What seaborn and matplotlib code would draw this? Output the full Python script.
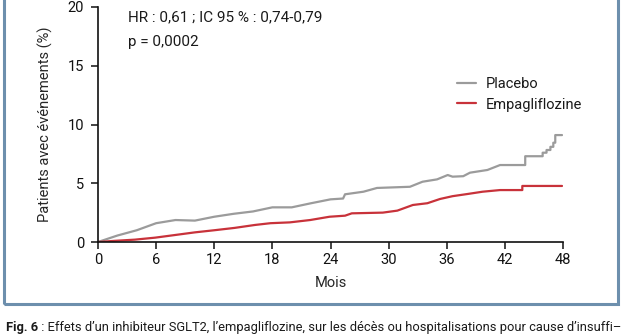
import matplotlib
matplotlib.use("Agg")
import matplotlib.pyplot as plt
import seaborn as sns
import pandas as pd
from matplotlib.patches import Rectangle

# ---- data ----
placebo_months = [0, 2, 4, 6, 8, 10, 12, 14, 16, 18, 20, 22, 24, 25.3, 25.5,
                  27.4, 28.8, 32.2, 33.5, 35, 36.1, 36.6, 37.7, 38.4, 40.2, 41.5,
                  44.1, 44.1, 45.9, 45.9, 46.3, 46.3, 46.7, 46.7, 47.0, 47.0,
                  47.2, 47.2, 47.9]
placebo_values = [0, 0.55, 1.0, 1.6, 1.87, 1.82, 2.15, 2.4, 2.6, 2.95, 2.95,
                  3.3, 3.63, 3.7, 4.06, 4.28, 4.6, 4.7, 5.13, 5.33, 5.7, 5.56,
                  5.6, 5.9, 6.13, 6.55, 6.55, 7.3, 7.3, 7.6, 7.6, 7.83, 7.83,
                  8.1, 8.1, 8.45, 8.45, 9.1, 9.1]
empa_months = [0, 1.75, 3.8, 5.9, 8, 10, 12, 14.1, 16.2, 17.8, 19.8, 21.9, 23.9,
               25.5, 26.2, 29.4, 30.9, 32.5, 34, 35.3, 36.6, 38.1, 39.7, 41.5,
               43.8, 43.8, 47.9]
empa_values = [0, 0.1, 0.2, 0.37, 0.6, 0.82, 1.0, 1.2, 1.45, 1.6, 1.67, 1.87,
               2.15, 2.24, 2.44, 2.5, 2.67, 3.15, 3.3, 3.66, 3.9, 4.08, 4.28,
               4.42, 4.42, 4.77, 4.77]
series_names = ["Placebo", "Empagliflozine"]
x_ticks = [0, 6, 12, 18, 24, 30, 36, 42, 48]
y_ticks = [0, 5, 10, 15, 20]
caption_bold = "Fig. 6"
caption_rest = (" : Effets d’un inhibiteur SGLT2, l’empagliflozine, sur les décès "
                "ou hospitalisations pour cause d’insuffi–")

df = pd.concat([
    pd.DataFrame({"Mois": placebo_months, "val": placebo_values, "serie": series_names[0]}),
    pd.DataFrame({"Mois": empa_months, "val": empa_values, "serie": series_names[1]}),
], ignore_index=True)

sns.set_style("ticks")
plt.rcParams["font.family"] = ["Roboto", "DejaVu Sans"]
plt.rcParams["text.color"] = "#1a1a1a"

W, H = 625, 336
fig = plt.figure(figsize=(W / 100, H / 100), dpi=100)
ax = fig.add_axes([98 / W, 1 - 242 / H, (563 - 98) / W, (242 - 7) / H])

sns.lineplot(data=df, x="Mois", y="val", hue="serie", hue_order=series_names,
             palette=["#9b9b9b", "#c8323a"], estimator=None, sort=False,
             linewidth=1.6, ax=ax)

ax.set_xlim(0, 48)
ax.set_ylim(0, 20)
ax.set_xticks(x_ticks)
ax.set_yticks(y_ticks)
sns.despine(ax=ax)
for s in ["left", "bottom"]:
    ax.spines[s].set_linewidth(1.2)
    ax.spines[s].set_color("#111111")
ax.tick_params(axis="both", direction="out", length=5, width=1.1,
               colors="#111111", labelsize=10.5)
ax.tick_params(axis="x", pad=3)
ax.tick_params(axis="y", pad=5)

ax.set_xlabel("Mois", fontsize=10.5)
ax.xaxis.set_label_coords(0.5, -0.145)
ax.set_ylabel("Patients avec événements (%)", fontsize=10.5)
ax.yaxis.set_label_coords(-0.114, 0.5)
ax.yaxis.label.set_va("center")

ax.text(0.0645, 0.957, "HR : 0,61 ; IC 95 % : 0,74-0,79", transform=ax.transAxes,
        va="center", ha="left", fontsize=11)
ax.text(0.0645, 0.851, "p = 0,0002", transform=ax.transAxes,
        va="center", ha="left", fontsize=11)

leg = ax.legend(loc="upper left", bbox_to_anchor=(0.772, 0.702), frameon=False,
                borderpad=0, borderaxespad=0, handlelength=1.3,
                handletextpad=0.7, labelspacing=0.45, fontsize=10.5, title=None)

# frame around the figure panel
fig.patches.append(Rectangle((4 / W, 1 - 304 / H), (618 - 4) / W, 320 / H,
                             transform=fig.transFigure, fill=False,
                             edgecolor="#6d8fad", linewidth=2.2, clip_on=False))

# caption (fit to the width of the reference line)
r = fig.canvas.get_renderer()
fs = 9.5
t1 = fig.text(6 / W, 1 - 328 / H, caption_bold, fontsize=fs, fontweight="bold",
              va="center", ha="left")
t2 = fig.text(0, 1 - 328 / H, caption_rest, fontsize=fs, va="center", ha="left")
for _ in range(3):
    bb = t1.get_window_extent(renderer=r)
    t2.set_x(bb.x1 / W)
    b2 = t2.get_window_extent(renderer=r)
    total = b2.x1 - 6
    fs = fs * (616 / total)
    t1.set_fontsize(fs)
    t2.set_fontsize(fs)
bb = t1.get_window_extent(renderer=r)
t2.set_x(bb.x1 / W)

fig.savefig("out.png", dpi=100)
